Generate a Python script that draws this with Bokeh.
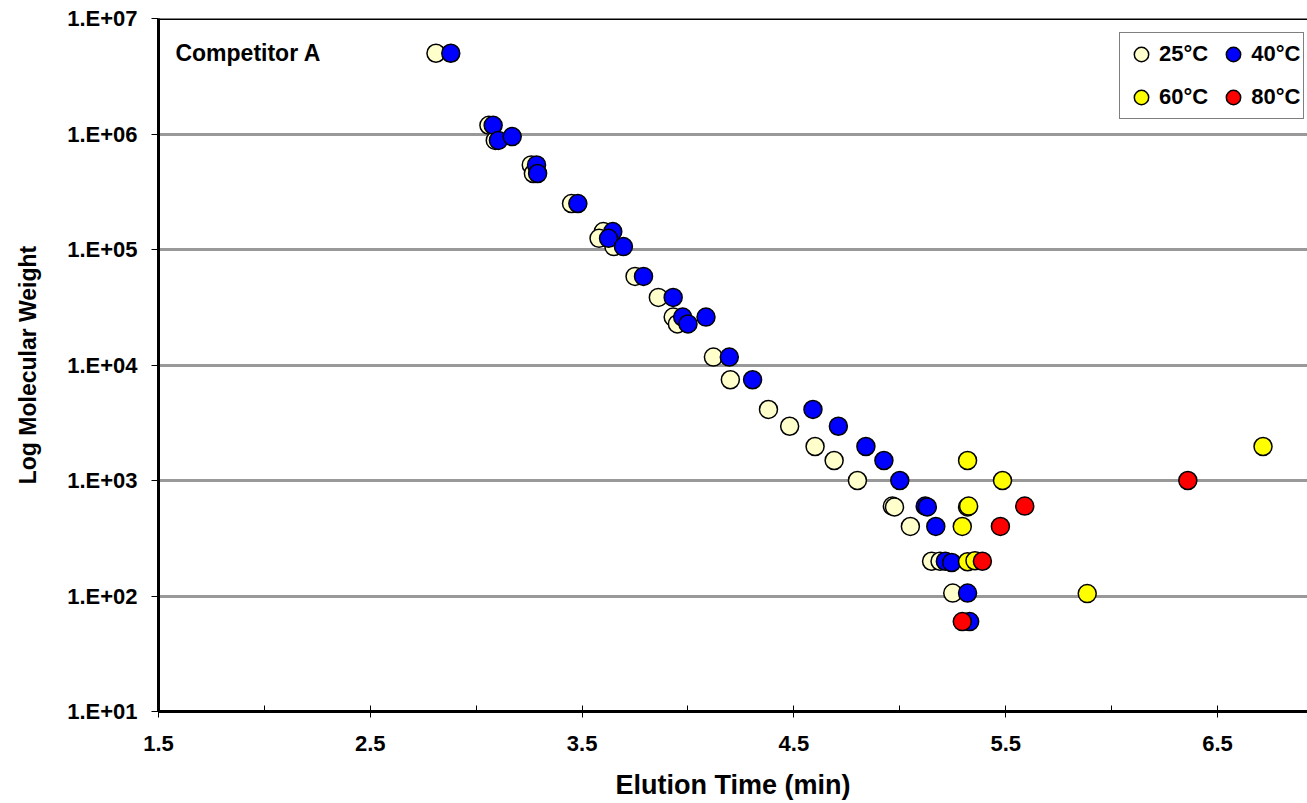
from bokeh.plotting import figure
from bokeh.models import (Range1d, FixedTicker, CustomJSTickFormatter, Legend, LegendItem,
                          Label, Span)
from bokeh.embed import file_html
from bokeh.resources import INLINE

# ---- data ----
x_ticks = [1.5, 2.5, 3.5, 4.5, 5.5, 6.5]
x_minor = [2.0, 3.0, 4.0, 5.0, 6.0]
y_ticks = [1e1, 1e2, 1e3, 1e4, 1e5, 1e6, 1e7]

t25 = [2.81, 3.06, 3.09, 3.26, 3.27, 3.45, 3.60, 3.58, 3.65, 3.75, 3.86, 3.93, 3.95,
       4.12, 4.20, 4.38, 4.48, 4.60, 4.69, 4.80, 4.965, 4.975, 5.05, 5.15, 5.19, 5.25]
mw25 = [5.0e6, 1.19e6, 8.8e5, 5.4e5, 4.55e5, 2.5e5, 1.43e5, 1.25e5, 1.06e5, 5.85e4, 3.85e4,
        2.6e4, 2.27e4, 1.17e4, 7.45e3, 4.12e3, 2.95e3, 1.97e3, 1.49e3, 1.0e3, 600, 590,
        400, 200, 200, 106]

t40 = [2.88, 3.08, 3.105, 3.17, 3.285, 3.29, 3.48, 3.645, 3.625, 3.695, 3.79, 3.93, 3.975,
       4.0, 4.085, 4.195, 4.305, 4.59, 4.71, 4.84, 4.925, 5.0, 5.12, 5.13, 5.17, 5.215,
       5.245, 5.32, 5.33]
mw40 = [5.0e6, 1.19e6, 8.8e5, 9.5e5, 5.4e5, 4.55e5, 2.5e5, 1.43e5, 1.25e5, 1.06e5, 5.85e4,
        3.85e4, 2.6e4, 2.27e4, 2.6e4, 1.17e4, 7.45e3, 4.12e3, 2.95e3, 1.97e3, 1.49e3, 1.0e3,
        600, 590, 400, 200, 195, 106, 60]

t60 = [5.32, 5.485, 5.32, 5.325, 5.295, 5.32, 5.355, 5.885, 6.715]
mw60 = [1490, 1000, 590, 600, 400, 198, 202, 105, 1970]

t80 = [5.59, 5.475, 5.39, 5.295, 6.36]
mw80 = [600, 400, 200, 60, 1000]

FONT = "Liberation Sans"

p = figure(width=1307, height=803, output_backend="svg", toolbar_location=None,
           x_range=Range1d(1.5, 6.925), y_range=Range1d(10, 1e7), y_axis_type="log",
           min_border_left=158, min_border_right=0, min_border_top=18, min_border_bottom=92,
           background_fill_color="white", border_fill_color="white")
p.outline_line_color = None
p.xgrid.visible = False
p.ygrid.ticker = FixedTicker(ticks=[1e2, 1e3, 1e4, 1e5, 1e6])
p.ygrid.grid_line_color = "#999999"
p.ygrid.grid_line_width = 3

# x axis
xa = p.xaxis[0]
xa.ticker = FixedTicker(ticks=x_ticks, minor_ticks=x_minor)
xa.axis_line_width = 3
xa.axis_line_color = "black"
xa.major_tick_in = 6
xa.major_tick_out = 6
xa.minor_tick_in = 6
xa.minor_tick_out = 0
xa.major_tick_line_color = "black"
xa.minor_tick_line_color = "black"
xa.major_label_text_font = FONT
xa.major_label_text_font_style = "bold"
xa.major_label_text_font_size = "22px"
xa.major_label_text_color = "black"
xa.major_label_standoff = 18
xa.axis_label = "Elution Time (min)"
xa.axis_label_text_font = FONT
xa.axis_label_text_font_style = "bold"
xa.axis_label_text_font_size = "27px"
xa.axis_label_text_color = "black"
xa.axis_label_standoff = 16

# y axis
ya = p.yaxis[0]
ya.ticker = FixedTicker(ticks=y_ticks, minor_ticks=[])
ya.formatter = CustomJSTickFormatter(code="""
const e = Math.round(Math.log10(tick));
return '1.E+' + (e < 10 ? '0' : '') + e;
""")
ya.axis_line_width = 3
ya.axis_line_color = "black"
ya.major_tick_in = 0
ya.major_tick_out = 7
ya.major_tick_line_color = "black"
ya.major_label_text_font = FONT
ya.major_label_text_font_style = "bold"
ya.major_label_text_font_size = "22px"
ya.major_label_text_color = "black"
ya.major_label_standoff = 14
ya.axis_label = "Log Molecular Weight"
ya.axis_label_text_font = FONT
ya.axis_label_text_font_style = "bold"
ya.axis_label_text_font_size = "23px"
ya.axis_label_text_color = "black"
ya.axis_label_standoff = 23

# top border
p.add_layout(Span(location=1e7, dimension="width", line_color="black", line_width=3))

kw = dict(size=18, line_color="black", line_width=1.5, marker="circle")
r25 = p.scatter(t25, mw25, fill_color="#FFFFCC", **kw)
r40 = p.scatter(t40, mw40, fill_color="#0000FF", **kw)
r60 = p.scatter(t60, mw60, fill_color="#FFFF00", **kw)
r80 = p.scatter(t80, mw80, fill_color="#FF0000", **kw)

legend = Legend(items=[LegendItem(label="25°C", renderers=[r25]),
                       LegendItem(label="60°C", renderers=[r60]),
                       LegendItem(label="40°C", renderers=[r40]),
                       LegendItem(label="80°C", renderers=[r80])],
                ncols=2, location=(961, 592))
legend.border_line_color = "black"
legend.border_line_width = 1.5
legend.background_fill_color = "white"
legend.background_fill_alpha = 1
legend.label_text_font = FONT
legend.label_text_font_style = "bold"
legend.label_text_font_size = "22px"
legend.label_text_color = "black"
legend.glyph_width = 36
legend.glyph_height = 36
legend.label_standoff = 0
legend.spacing = 7
legend.padding = 3
legend.margin = 0
p.add_layout(legend)

p.add_layout(Label(x=1.58, y=4.98e6, text="Competitor A", text_font=FONT,
                   text_font_style="bold", text_font_size="23px", text_baseline="middle",
                   text_color="black"))

open("out.html", "w").write(file_html(p, INLINE))
